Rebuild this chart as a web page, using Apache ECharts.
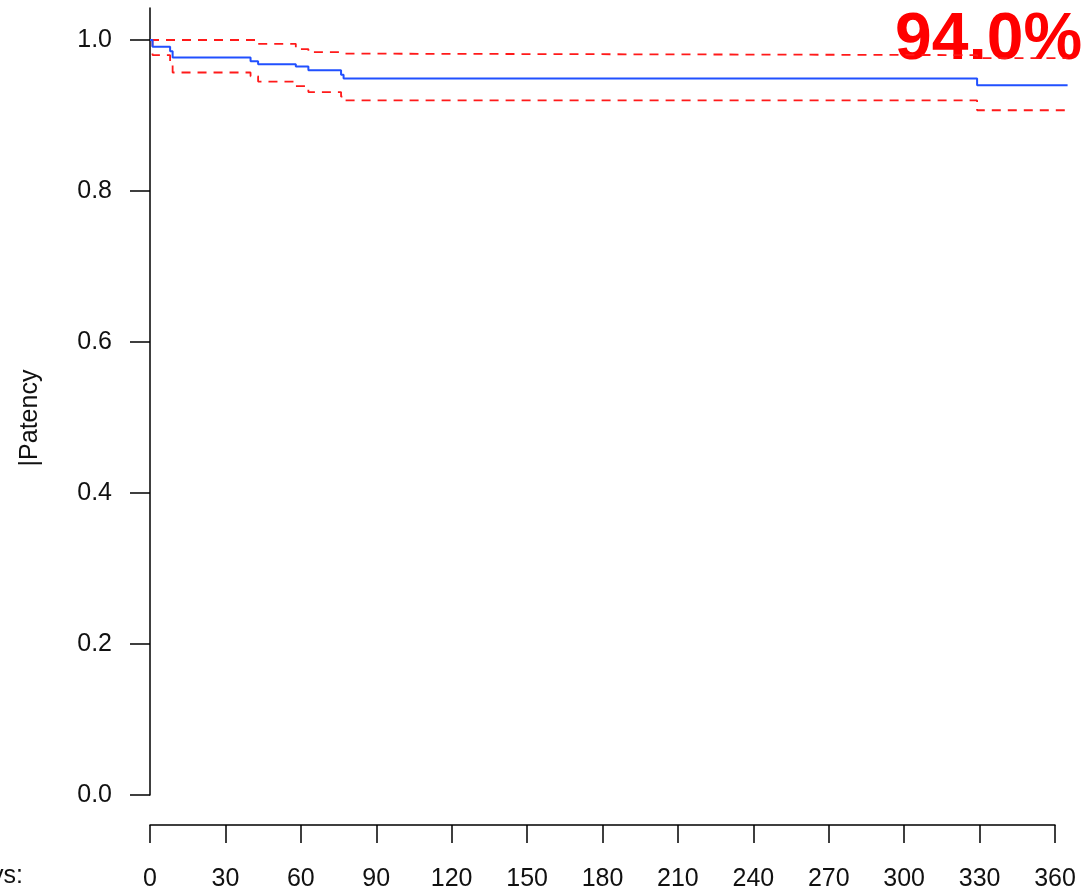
<!DOCTYPE html>
<html>
<head>
<meta charset="utf-8">
<title>Patency</title>
<script src="https://cdn.jsdelivr.net/npm/echarts@6/dist/echarts.min.js"></script>
<style>
  html, body { margin: 0; padding: 0; background: #fff; }
  #chart { width: 1086px; height: 892px; }
</style>
</head>
<body>
<div id="chart"></div>
<script>
// step times (days) and Kaplan-Meier estimates
const days = [0, 1, 8, 9, 40, 43, 58, 63, 76, 77, 329, 365]
const patency = [1, 0.991, 0.985, 0.977, 0.972, 0.968, 0.965, 0.960, 0.954, 0.949, 0.940, 0.940]
const upperCI = [1, 1, 1, 1, 1, 0.995, 0.988, 0.984, 0.982, 0.980, 0.976, 0.976]
const lowerCI = [1, 0.980, 0.970, 0.957, 0.952, 0.945, 0.939, 0.931, 0.925, 0.920, 0.907, 0.907]
const yTicks = [0, 0.2, 0.4, 0.6, 0.8, 1.0]
const xTicks = [0, 30, 60, 90, 120, 150, 180, 210, 240, 270, 300, 330, 360]
const headline = '94.0%'

const font = 'Liberation Sans, Arial, sans-serif'
const pairs = vals => days.map((d, i) => [d, vals[i]])

const myChart = echarts.init(document.getElementById('chart'))
const option = {
  animation: false,
  grid: [
    // plot area: 0..372 days so the curves can run past the last tick
    { left: 150, right: 0.8, top: 8, bottom: 97 },
    // axis strip: 0..360 days, same px per day
    { left: 150, right: 31, top: 700, bottom: 67 }
  ],
  xAxis: [
    {
      type: 'value',
      gridIndex: 0,
      min: 0,
      max: 372,
      show: false
    },
    {
      type: 'value',
      gridIndex: 1,
      min: 0,
      max: 360,
      interval: 30,
      axisLine: {
        onZero: false,
        lineStyle: { color: '#000', width: 1.5 }
      },
      axisTick: {
        length: 18,
        customValues: xTicks,
        lineStyle: { color: '#000', width: 1.5 }
      },
      axisLabel: {
        customValues: xTicks,
        margin: 42,
        color: '#111',
        fontSize: 25,
        fontFamily: font
      },
      splitLine: { show: false }
    }
  ],
  yAxis: [
    {
      type: 'value',
      gridIndex: 0,
      min: 0,
      max: 1.0424,
      axisLine: {
        show: true,
        lineStyle: { color: '#000', width: 1.5 }
      },
      axisTick: {
        show: true,
        length: 20,
        customValues: yTicks,
        lineStyle: { color: '#000', width: 1.5 }
      },
      axisLabel: {
        customValues: yTicks,
        margin: 38,
        color: '#111',
        fontSize: 25,
        fontFamily: font,
        formatter: v => v.toFixed(1)
      },
      splitLine: { show: false }
    },
    {
      type: 'value',
      gridIndex: 1,
      show: false
    }
  ],
  graphic: [
    {
      type: 'text',
      left: 895,
      top: 8,
      style: {
        text: headline,
        fill: '#FF0000',
        font: 'bold 66px ' + font
      }
    },
    {
      type: 'text',
      x: 30,
      y: 418,
      rotation: Math.PI / 2,
      style: {
        text: '|Patency',
        fill: '#111',
        font: '25px ' + font,
        align: 'center',
        verticalAlign: 'middle'
      }
    },
    {
      type: 'text',
      x: 23,
      y: 876,
      style: {
        text: 'Days:',
        fill: '#111',
        font: '25px ' + font,
        align: 'right',
        verticalAlign: 'middle'
      }
    }
  ],
  series: [
    {
      name: 'upper',
      type: 'line',
      step: 'end',
      symbol: 'none',
      data: pairs(upperCI),
      lineStyle: { color: '#FF1A1A', width: 1.8, type: [9, 7] }
    },
    {
      name: 'lower',
      type: 'line',
      step: 'end',
      symbol: 'none',
      data: pairs(lowerCI),
      lineStyle: { color: '#FF1A1A', width: 1.8, type: [9, 7] }
    },
    {
      name: 'patency',
      type: 'line',
      step: 'end',
      symbol: 'none',
      data: pairs(patency),
      lineStyle: { color: '#2150FF', width: 2 }
    }
  ]
}
myChart.setOption(option)
window.onresize = () => {
  myChart.resize()
}
</script>
</body>
</html>
